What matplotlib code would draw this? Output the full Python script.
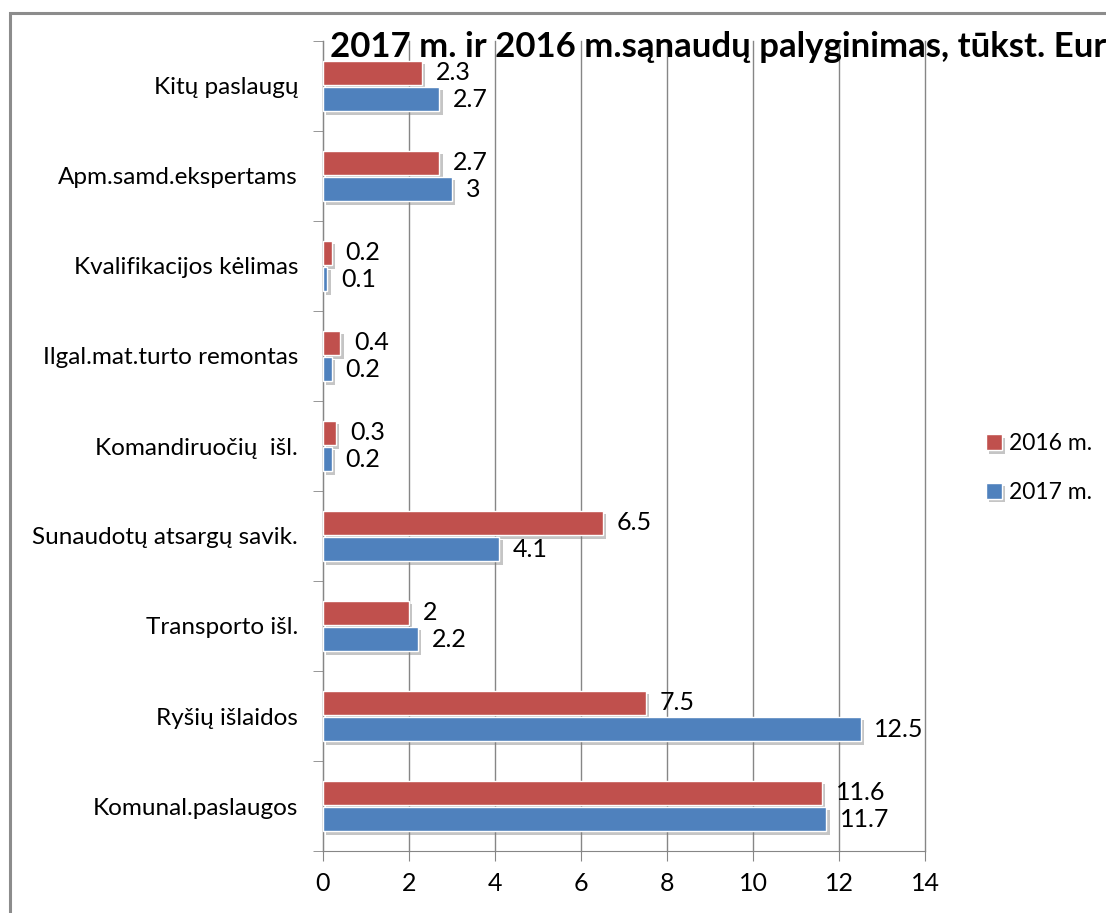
# horizontal grouped bars, 2016 vs 2017 costs
import numpy as np
import matplotlib.pyplot as plt
import matplotlib.patheffects as pe
from matplotlib.patches import Rectangle

plt.rcParams['font.family'] = ['Lato', 'DejaVu Sans']

# data (bottom to top)
categories = ['Komunal.paslaugos', 'Ryšių išlaidos', 'Transporto išl.',
              'Sunaudotų atsargų savik.', 'Komandiruočių  išl.',
              'Ilgal.mat.turto remontas', 'Kvalifikacijos kėlimas',
              'Apm.samd.ekspertams', 'Kitų paslaugų']
vals_2016 = [11.6, 7.5, 2, 6.5, 0.3, 0.4, 0.2, 2.7, 2.3]
vals_2017 = [11.7, 12.5, 2.2, 4.1, 0.2, 0.2, 0.1, 3, 2.7]
xticks = [0, 2, 4, 6, 8, 10, 12, 14]

red = '#C0504D'
blue = '#4F81BD'
gray = '#868686'

fig = plt.figure(figsize=(11.06, 9.13), dpi=100)
ax = fig.add_axes([323/1106, 62/913, 602/1106, 810/913])

# outer chart frame
fig.patches.append(Rectangle((10/1106, -0.05), 1.2, (913-13)/913 + 0.05,
                             transform=fig.transFigure, fill=False,
                             edgecolor='#8c8c8c', linewidth=2.2))

y = np.arange(len(categories))
h = 0.27
shadow = [pe.SimplePatchShadow(offset=(2.5, -2.5), shadow_rgbFace='#7f7f7f', alpha=0.45), pe.Normal()]
b16 = ax.barh(y + 0.145, vals_2016, height=h, color=red, edgecolor='white',
              linewidth=1, label='2016 m.', zorder=3)
b17 = ax.barh(y - 0.145, vals_2017, height=h, color=blue, edgecolor='white',
              linewidth=1, label='2017 m.', zorder=3)
for b in list(b16) + list(b17):
    b.set_path_effects(shadow)

# data labels
for bars, vals in [(b16, vals_2016), (b17, vals_2017)]:
    for b, v in zip(bars, vals):
        ax.annotate(f'{v:g}', (v, b.get_y() + b.get_height() / 2),
                    xytext=(10, 0), textcoords='offset points',
                    va='center', ha='left', fontsize=18, color='black')

ax.set_xlim(0, 14)
ax.set_ylim(-0.5, len(categories) - 0.5)
ax.set_xticks(xticks)
ax.set_xticklabels([str(t) for t in xticks], fontsize=18)
ax.set_yticks(y)
ax.set_yticklabels(categories, fontsize=17.5)
ax.tick_params(axis='y', length=0, pad=18)
ax.set_yticks(np.arange(-0.5, len(categories)), minor=True)
ax.tick_params(axis='y', which='minor', length=7, color=gray)
ax.tick_params(axis='x', length=7, color=gray, pad=8)
ax.grid(axis='x', color=gray, linewidth=1, zorder=0)
for line in ax.get_xgridlines():
    line.set_clip_on(False)
for s in ['top', 'right']:
    ax.spines[s].set_visible(False)
for s in ['left', 'bottom']:
    ax.spines[s].set_color(gray)

fig.text(330/1106, 1 - 57/913, '2017 m. ir 2016 m.sąnaudų palyginimas, tūkst. Eur',
         fontsize=25, fontweight='bold', ha='left', va='baseline')

handles, labels = ax.get_legend_handles_labels()
fig.legend(handles, labels, loc='center left', bbox_to_anchor=(965/1106, 1 - 468/913),
           frameon=False, fontsize=16.5, handlelength=0.7, handleheight=0.7,
           handletextpad=0.3, labelspacing=1.2)

fig.savefig('out.png', dpi=100)
